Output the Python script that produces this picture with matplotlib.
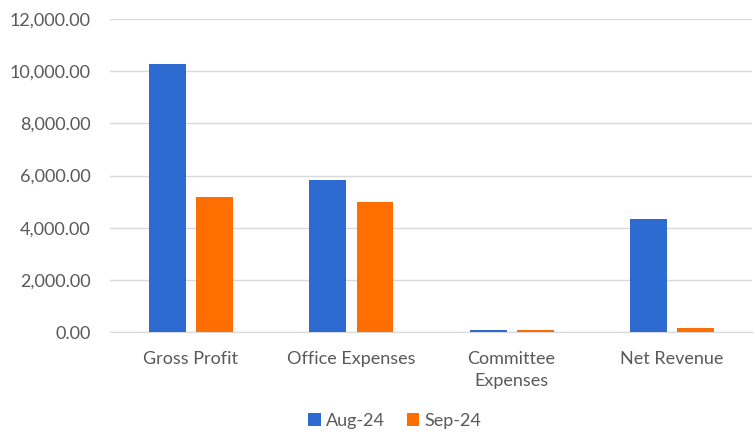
import matplotlib.pyplot as plt
import numpy as np
from matplotlib.ticker import FuncFormatter

categories = ["Gross Profit", "Office Expenses", "Committee\nExpenses", "Net Revenue"]
aug = [10270, 5820, 90, 4350]
sep = [5180, 4990, 70, 140]
series_names = ["Aug-24", "Sep-24"]

plt.rcParams['font.family'] = ['Lato', 'DejaVu Sans']
grey = '#595959'

fig = plt.figure(figsize=(7.55, 4.34), dpi=100)
ax = fig.add_axes([0.146, 0.235, 0.85, 0.721])

x = np.arange(len(categories))
w = 0.23
ax.bar(x - w/2 - 0.03, aug, w, color='#2E6BD1', label=series_names[0], zorder=3)
ax.bar(x + w/2 + 0.035, sep, w, color='#FF6E00', label=series_names[1], zorder=3)

ax.set_xlim(-0.5, 3.5)
ax.set_ylim(0, 12000)
ax.set_yticks(np.arange(0, 12001, 2000))
ax.yaxis.set_major_formatter(FuncFormatter(lambda v, p: f"{v:,.2f}"))
ax.set_xticks(x)
ax.set_xticklabels(categories, linespacing=1.45)
ax.grid(axis='y', color='#d9d9d9', linewidth=1, zorder=0)
for s in ['top', 'right', 'left']:
    ax.spines[s].set_visible(False)
ax.spines['bottom'].set_color('#d9d9d9')
ax.tick_params(axis='both', length=0, colors=grey, labelsize=13)
ax.tick_params(axis='x', pad=14)
ax.tick_params(axis='y', pad=14)

fig.legend(loc='center', bbox_to_anchor=(0.523, 0.03), ncol=2, frameon=False,
           fontsize=13, labelcolor=grey, handlelength=0.7, handleheight=0.7,
           handletextpad=0.3, columnspacing=1.2, borderpad=0)

fig.savefig("out.png", dpi=100)
